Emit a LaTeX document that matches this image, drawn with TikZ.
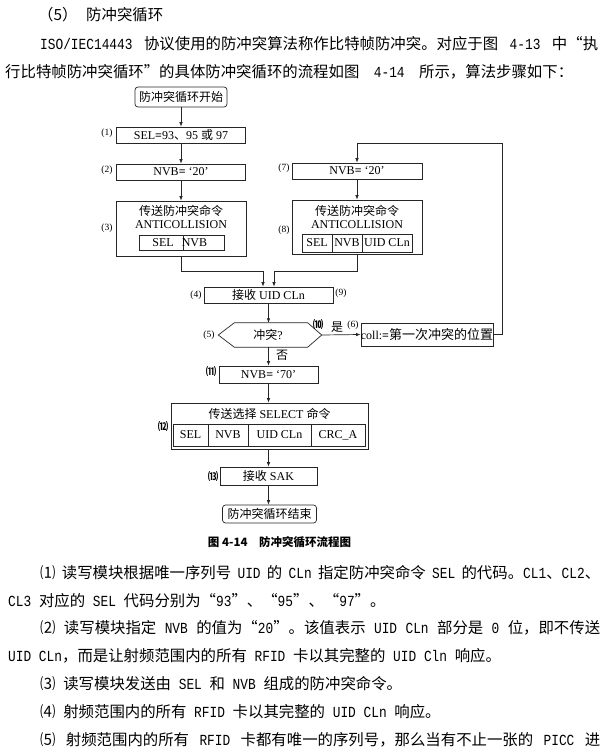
\documentclass[tikz,border=0pt]{standalone}
\usepackage{fontspec}
\setmainfont{Liberation Serif}
\newfontfamily\cjk{Noto Sans CJK SC}
\newfontfamily\hw{Liberation Mono}[Scale=1.0,FakeStretch=0.8333]
\usetikzlibrary{arrows.meta}
\XeTeXlinebreaklocale "zh"
\XeTeXlinebreakskip=0pt plus 1pt minus 0.1pt
\newcommand\zh[1]{{\cjk #1}}
\newcommand\hwt[1]{{\hw #1}}
\newcommand\eqb{\textbf{=}}
\tikzset{
  box/.style={draw=black!85, line width=0.7pt, inner sep=0pt, font=\fontsize{12}{14}\selectfont},
  flow/.style={draw=black!85, line width=0.7pt, -{Latex[length=4.5pt,width=3.5pt]}},
  plain/.style={draw=black!85, line width=0.7pt},
  lab/.style={font=\fontsize{9.5}{10}\selectfont, inner sep=0pt},
  clab/.style={font=\cjk\fontsize{10.5}{11}\selectfont\bfseries, inner sep=0pt},
  ft/.style={font=\fontsize{12}{14}\selectfont, inner sep=0pt},
  body/.style={font=\cjk\fontsize{15.4}{18}\selectfont, inner sep=0pt, anchor=west},
}
\begin{document}
\begin{tikzpicture}[x=1pt,y=-1pt]
\fill[white] (0,0) rectangle (610,755);
\useasboundingbox (0,0) rectangle (610,755);

% ---------- top text ----------
\node[body] (t0a) at (38,15) {（5）};
\node[body] (t0b) at (86,15) {防冲突循环};
\node[body] (t1) at (40,44) {\makebox[558pt][s]{\hwt{ISO/IEC14443 }协议使用的防冲突算法称作比特帧防冲突。对应于图\hwt{ 4-13 }中“执}};
\node[body] (t2) at (5,72) {\makebox[568pt][s]{行比特帧防冲突循环”的具体防冲突循环的流程如图\hwt{ 4-14 }所示，算法步骤如下：}};

% ---------- flowchart ----------
\node[box, rounded corners=3pt, minimum width=92pt, minimum height=20pt] (start) at (181,97) {\zh{防冲突循环开始}};
\node[box, minimum width=129pt, minimum height=16pt] (b1) at (181,135) {SEL\eqb 93\zh{、}95 \zh{或} 97};
\node[box, minimum width=129pt, minimum height=16pt] (b2) at (181,172) {NVB\eqb\ ‘20’};
\node[box, minimum width=130pt, minimum height=55pt] (b3) at (181,228.5) {};
\node[ft] (b3t) at (181,211) {\zh{传送防冲突命令}};
\node[ft] (b3a) at (181,225) {ANTICOLLISION};
\node[box, minimum width=85pt, minimum height=15pt] (b3r) at (181.5,242.5) {};
\draw[plain] (183,235) -- (183,250);
\node[ft] (b3s) at (163,243) {SEL};
\node[ft] (b3n) at (194.5,243) {NVB};

\node[box, minimum width=130pt, minimum height=16pt] (b7) at (357,171) {NVB\eqb\ ‘20’};
\node[box, minimum width=130pt, minimum height=54pt] (b8) at (357,227) {};
\node[ft] (b8t) at (357,211) {\zh{传送防冲突命令}};
\node[ft] (b8a) at (357,225) {ANTICOLLISION};
\node[box, minimum width=30pt, minimum height=18pt] (b8s) at (317,243) {SEL};
\node[box, minimum width=30pt, minimum height=18pt] (b8n) at (347,243) {NVB};
\node[box, minimum width=50pt, minimum height=18pt] (b8u) at (387,243) {UID CLn};

\node[box, minimum width=129pt, minimum height=16pt] (b4) at (268.5,295) {\zh{接收} UID CLn};

\node[inner sep=0pt, minimum width=103pt, minimum height=24pt] (hex) at (270,335) {};
\draw[plain] (hex.west) -- ([xshift=16pt]hex.north west) -- ([xshift=-14pt]hex.north east) -- (hex.east) -- ([xshift=-14pt]hex.south east) -- ([xshift=16pt]hex.south west) -- cycle;
\node[ft] (hext) at (268,335) {\zh{冲突}?};

\node[box, minimum width=130pt, minimum height=23pt] (b6) at (427,334.5) {coll:\eqb{\cjk\fontsize{13}{14}\selectfont 第一次冲突的位置}};

\node[box, minimum width=99pt, minimum height=17pt] (b11) at (268.5,374.5) {NVB\eqb\ ‘70’};

\node[box, minimum width=197pt, minimum height=46pt] (b12) at (269.5,426) {};
\node[ft] (b12t) at (269.5,413.5) {\zh{传送选择} SELECT \zh{命令}};
\node[box, minimum width=35pt, minimum height=22pt] (c1) at (190.5,435) {SEL};
\node[box, minimum width=40pt, minimum height=22pt] (c2) at (228,435) {NVB};
\node[box, minimum width=63pt, minimum height=22pt] (c3) at (279.5,435) {UID CLn};
\node[box, minimum width=54pt, minimum height=22pt] (c4) at (338,435) {CRC\_A};

\node[box, minimum width=97pt, minimum height=18pt] (b13) at (268.5,476) {\zh{接收} SAK};
\node[box, rounded corners=3pt, minimum width=94pt, minimum height=18pt] (end) at (269.5,514) {\zh{防冲突循环结束}};

\node[font=\cjk\fontsize{11.5}{13}\selectfont\bfseries, inner sep=0pt] (cap) at (279.5,542) {图 4-14\quad 防冲突循环流程图};

% connectors
\draw[flow] (start.south) -- (start.south |- b1.north);
\draw[flow] (b1.south) -- (b2.north);
\draw[flow] (b2.south) -- (b3.north);
\draw[flow] (b3.south) -- ++(0,15) -| ([xshift=-5.5pt]b4.north);
\draw[flow] (b8.south) -- ++(0,17) -| ([xshift=5.5pt]b4.north);
\draw[flow] (b7.south) -- (b8.north);
\draw[flow] (b4.south) -- (b4.south |- hex.north);
\draw[flow] (hex.east) -- (b6.west);
\draw[flow] (b6.east) -- ++(9,0) |- ([yshift=19pt]b7.north) -- (b7.north);
\draw[flow] (hex.south -| b4.south) -- (b11.north -| b4.south);
\draw[flow] (b11.south) -- (b11.south |- b12.north);
\draw[flow] (b12.south -| b11.south) -- (b11.south |- b13.north);
\draw[flow] (b13.south) -- (b13.south |- end.north);

% labels
\node[lab] (l1) at (107,133) {(1)};
\node[lab] (l2) at (107,170) {(2)};
\node[lab] (l3) at (107,228) {(3)};
\node[lab] (l7) at (284,168) {(7)};
\node[lab] (l8) at (284,230) {(8)};
\node[lab] (l4) at (196,295) {(4)};
\node[lab] (l9) at (341,293) {(9)};
\node[lab] (l5) at (209,335) {(5)};
\node[clab] (l10) at (318,325) {⑽};
\node[ft] (yes) at (337,327) {\zh{是}};
\node[lab] (l6) at (353,325) {(6)};
\node[ft] (no) at (282,355) {\zh{否}};
\node[clab] (l11) at (211,372) {⑾};
\node[clab] (l12) at (163,427) {⑿};
\node[clab] (l13) at (213,477) {⒀};

% ---------- bottom text ----------
\node[body] (p1) at (40,573) {\makebox[560pt][s]{⑴\hwt{ }读写模块根据唯一序列号\hwt{ UID }的\hwt{ CLn }指定防冲突命令\hwt{ SEL }的代码。\hwt{CL1}、\hwt{CL2}、}};
\node[body] (p2) at (8,601) {\hwt{CL3 }对应的\hwt{ SEL }代码分别为“\hwt{93}”、“\hwt{95}”、“\hwt{97}”。};
\node[body] (p3) at (40,628) {\makebox[560pt][s]{⑵\hwt{ }读写模块指定\hwt{ NVB }的值为“\hwt{20}”。该值表示\hwt{ UID CLn }部分是\hwt{ 0 }位，即不传送}};
\node[body] (p4) at (8,656) {\hwt{UID CLn}，而是让射频范围内的所有\hwt{ RFID }卡以其完整的\hwt{ UID Cln }响应。};
\node[body] (p5) at (40,684) {⑶\hwt{ }读写模块发送由\hwt{ SEL }和\hwt{ NVB }组成的防冲突命令。};
\node[body] (p6) at (40,712) {⑷\hwt{ }射频范围内的所有\hwt{ RFID }卡以其完整的\hwt{ UID CLn }响应。};
\node[body] (p7) at (40,740) {\makebox[560pt][s]{⑸\hwt{ }射频范围内的所有\hwt{ RFID }卡都有唯一的序列号，那么当有不止一张的\hwt{ PICC }进}};
\end{tikzpicture}
\end{document}
